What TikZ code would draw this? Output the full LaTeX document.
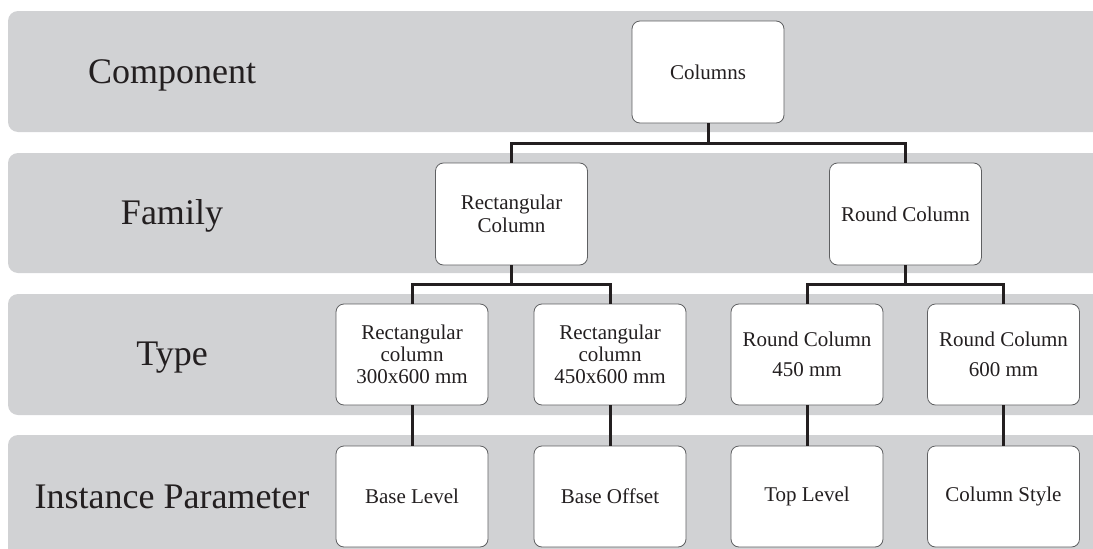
\documentclass[tikz,border=0pt]{standalone}
\usepackage{fontspec}
\setmainfont{Liberation Serif}
\definecolor{bandgray}{HTML}{D1D2D4}
\definecolor{ink}{HTML}{231F20}
\definecolor{boxedge}{HTML}{5F6062}
\begin{document}
\begin{tikzpicture}[x=1pt,y=-1pt,
  band/.style={fill=bandgray, draw=none, rounded corners=10pt},
  lvl/.style={font=\fontsize{36}{40}\selectfont, text=ink, anchor=base},
  box/.style={draw=boxedge, fill=white, line width=0.8pt, rounded corners=8pt,
    minimum width=152pt, minimum height=102pt, align=center, inner sep=0pt,
    font=\fontsize{21}{22}\selectfont, text=ink},
  link/.style={line width=3pt, draw=ink}
]
\useasboundingbox (0,0) rectangle (1093,549);
\clip (0,0) rectangle (1093,549);

% level bands
\fill[band] (8,11) rectangle (1120,132);
\fill[band] (8,153) rectangle (1120,273);
\fill[band] (8,294) rectangle (1120,415);
\fill[band] (8,435) rectangle (1120,575);

% level names
\node[lvl] (lcomp) at (172,83) {Component};
\node[lvl] (lfam) at (172,224) {Family};
\node[lvl] (ltype) at (172,365) {Type};
\node[lvl] (linst) at (172,508) {Instance Parameter};

% component
\node[box] (col) at (708,72) {Columns};

% families
\node[box] (rect) at (511.5,214) {Rectangular\\[1pt]Column};
\node[box] (round) at (905.5,214) {Round Column};

% types
\node[box, minimum height=101pt] (t1) at (412,354.5) {Rectangular\\column\\300x600 mm};
\node[box, minimum height=101pt] (t2) at (610,354.5) {Rectangular\\column\\450x600 mm};
\node[box, minimum height=101pt] (t3) at (807,354.5) {Round Column\\[8pt]450 mm};
\node[box, minimum height=101pt] (t4) at (1003.5,354.5) {Round Column\\[8pt]600 mm};

% instance parameters
\node[box, minimum height=101pt] (i1) at (412,496.5) {Base Level};
\node[box, minimum height=101pt] (i2) at (610,496.5) {Base Offset};
\node[box, minimum height=101pt] (i3) at (807,496.5) {Top Level};
\node[box, minimum height=101pt] (i4) at (1003.5,496.5) {Column Style};

% branch points
\coordinate (j1) at (708,143);
\coordinate (j2) at (511.5,284);
\coordinate (j3) at (905.5,284);

% tree connectors
\draw[link] (col.south) -- (j1);
\draw[link] (rect.north) |- (j1) -| (round.north);
\draw[link] (rect.south) -- (j2);
\draw[link] (t1.north) |- (j2) -| (t2.north);
\draw[link] (round.south) -- (j3);
\draw[link] (t3.north) |- (j3) -| (t4.north);
\draw[link] (t1.south) -- (i1.north);
\draw[link] (t2.south) -- (i2.north);
\draw[link] (t3.south) -- (i3.north);
\draw[link] (t4.south) -- (i4.north);
\end{tikzpicture}
\end{document}
